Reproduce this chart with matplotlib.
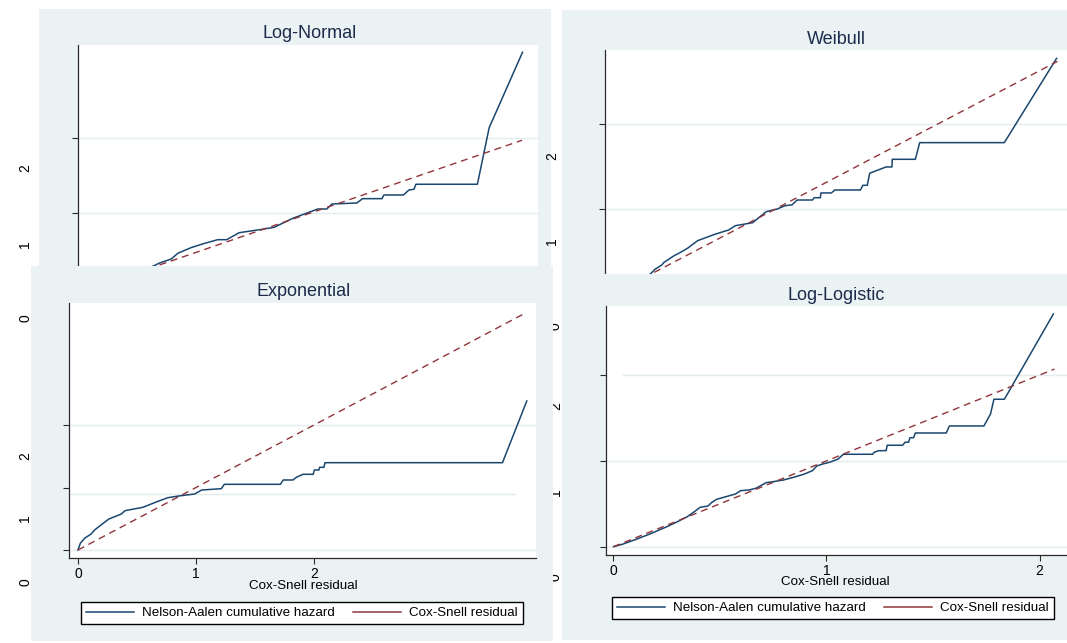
import matplotlib.pyplot as plt
from matplotlib.lines import Line2D

plt.rcParams['font.family'] = ['Liberation Sans', 'DejaVu Sans']

# Nelson-Aalen cumulative hazard vs Cox-Snell residual, four models
ln_na_x = [0, 0.279, 0.304, 0.361, 0.391, 0.451, 0.509, 0.574, 0.615, 0.672, 0.779, 0.833,
           0.918, 1.033, 1.074, 1.098, 1.212, 1.238, 1.327, 1.336, 1.426, 1.451, 1.474,
           1.483, 1.765, 1.819, 1.972]
ln_na_y = [0, 0.293, 0.329, 0.387, 0.463, 0.537, 0.591, 0.644, 0.644, 0.737, 0.783, 0.809,
           0.929, 1.053, 1.053, 1.12, 1.133, 1.191, 1.191, 1.24, 1.24, 1.307, 1.316,
           1.383, 1.383, 2.137, 3.143]
ln_cs = [0, 1.97]

wb_na_x = [0, 0.234, 0.262, 0.304, 0.315, 0.377, 0.42, 0.462, 0.525, 0.631, 0.715, 0.757,
           0.863, 0.947, 1.01, 1.063, 1.105, 1.137, 1.232, 1.242, 1.28, 1.284, 1.348, 1.369,
           1.527, 1.542, 1.569, 1.584, 1.685, 1.721, 1.723, 1.865, 1.892, 2.413, 2.735]
wb_na_y = [0, 0.239, 0.294, 0.345, 0.372, 0.451, 0.494, 0.541, 0.631, 0.706, 0.756, 0.807,
           0.842, 0.972, 1.0, 1.042, 1.051, 1.109, 1.109, 1.136, 1.136, 1.192, 1.192, 1.227,
           1.227, 1.282, 1.282, 1.424, 1.498, 1.498, 1.588, 1.588, 1.784, 1.784, 2.776]
wb_cs = [0, 2.74]

ex_na_x = [0, 0.02, 0.056, 0.111, 0.141, 0.202, 0.262, 0.368, 0.398, 0.55, 0.67, 0.762,
           0.853, 0.988, 1.049, 1.215, 1.24, 1.715, 1.739, 1.821, 1.851, 1.906, 1.993,
           2.003, 2.042, 2.047, 2.084, 2.093, 3.597, 3.803]
ex_na_y = [0, 0.107, 0.187, 0.256, 0.32, 0.411, 0.496, 0.576, 0.629, 0.683, 0.773, 0.837,
           0.864, 0.896, 0.96, 0.981, 1.051, 1.051, 1.12, 1.12, 1.163, 1.211, 1.211,
           1.28, 1.28, 1.323, 1.323, 1.397, 1.397, 2.384]
ex_cs = [0, 3.8]

ll_na_x = [0, 0.042, 0.107, 0.171, 0.251, 0.3, 0.347, 0.38, 0.407, 0.444, 0.46, 0.484,
           0.54, 0.573, 0.597, 0.637, 0.669, 0.717, 0.75, 0.798, 0.846, 0.894, 0.934,
           0.955, 0.983, 1.015, 1.055, 1.079, 1.216, 1.224, 1.245, 1.28, 1.285, 1.357,
           1.369, 1.385, 1.392, 1.409, 1.417, 1.562, 1.577, 1.739, 1.77, 1.786, 1.835, 2.065]
ll_na_y = [0, 0.028, 0.086, 0.148, 0.233, 0.291, 0.35, 0.408, 0.459, 0.474, 0.513, 0.552,
           0.591, 0.614, 0.653, 0.661, 0.681, 0.746, 0.758, 0.777, 0.809, 0.844, 0.886,
           0.941, 0.964, 0.984, 1.022, 1.077, 1.077, 1.1, 1.119, 1.119, 1.182, 1.182,
           1.217, 1.217, 1.27, 1.27, 1.325, 1.325, 1.407, 1.407, 1.547, 1.718, 1.718, 2.712]
ll_cs = [0, 2.07]

x_ticks = [0, 1, 2]
y_ticks_top = [1, 2]
y_ticks_bottom = [0, 1, 2]
legend_labels = ['Nelson-Aalen cumulative hazard', 'Cox-Snell residual']

W, H = 1067, 643
BG = '#EAF2F3'
GRID = '#E3EDEF'
NA_COLOR = '#1A476F'
CS_COLOR = '#90353B'
AX_COLOR = '#2b2b2b'
TITLE_COLOR = '#1c2b4b'

fig = plt.figure(figsize=(W / 100, H / 100), dpi=100)


def box(x0, y0, x1, y1):
    return [x0 / W, 1 - y1 / H, (x1 - x0) / W, (y1 - y0) / H]


def px_text(x, y, s, **kw):
    kw.setdefault('ha', 'center')
    kw.setdefault('va', 'center')
    return fig.text(x / W, 1 - y / H, s, **kw)


def bg_panel(x0, y0, x1, y1):
    ax = fig.add_axes(box(x0, y0, x1, y1))
    ax.set_facecolor(BG)
    ax.set_xticks([])
    ax.set_yticks([])
    for s in ax.spines.values():
        s.set_visible(False)
    return ax


def plot_panel(rect, na_x, na_y, cs, xlim, ylim, yticks, show_x=False):
    ax = fig.add_axes(box(*rect))
    ax.set_facecolor('white')
    ax.plot(na_x, na_y, color=NA_COLOR, lw=1.1, zorder=3)
    ax.plot(cs, cs, color=CS_COLOR, lw=1.0, ls=(0, (5, 3.5)), zorder=3)
    ax.set_xlim(*xlim)
    ax.set_ylim(*ylim)
    for s in ['top', 'right']:
        ax.spines[s].set_visible(False)
    for s in ['left', 'bottom']:
        ax.spines[s].set_color(AX_COLOR)
        ax.spines[s].set_linewidth(0.9)
    ax.set_yticks(yticks)
    ax.set_yticklabels([])
    ax.tick_params(axis='y', length=4, width=0.8, color=AX_COLOR)
    if show_x:
        ax.set_xticks(x_ticks)
        ax.set_xticklabels([str(t) for t in x_ticks])
        ax.tick_params(axis='x', length=4, width=0.8, color=AX_COLOR,
                       labelsize=10, pad=2.5)
    else:
        ax.set_xticks([])
    return ax


# top-left: Log-Normal
bg_panel(39, 9, 551, 300)
ax = plot_panel((78, 45, 538, 296), ln_na_x, ln_na_y, ln_cs,
                (-0.067, 2.043), (-0.107, 3.24), y_ticks_top)
for y in y_ticks_top:
    ax.axhline(y, color=GRID, lw=1.0, zorder=1)

# top-right: Weibull
bg_panel(562, 10, 1067, 300)
ax = plot_panel((605, 50, 1067, 302), wb_na_x, wb_na_y, wb_cs,
                (-0.046, 2.799), (-0.091, 2.874), y_ticks_top)
for y in y_ticks_top:
    ax.axhline(y, color=GRID, lw=1.0, zorder=1)

# labels that sit between the panels, partly covered by the lower-left panel
for y, s in [(326, '0'), (406, '2'), (492, '1'), (577, '0')]:
    px_text(556, y, s, rotation=90, fontsize=10, zorder=-1)

# bottom-left: Exponential
bg_panel(31, 266, 553, 641)
ax = plot_panel((69, 303, 536, 558), ex_na_x, ex_na_y, ex_cs,
                (-0.076, 3.881), (-0.128, 3.952), y_ticks_bottom, show_x=True)
ax.axhline(0, color=GRID, lw=1.0, zorder=1)
ax.axhline(2, color=GRID, lw=1.0, zorder=1)
ax.axhline(0.9, xmax=0.955, color=GRID, lw=1.0, zorder=1)

# bottom-right: Log-Logistic
bg_panel(562, 274, 1067, 640)
ax = plot_panel((606, 306, 1067, 555), ll_na_x, ll_na_y, ll_cs,
                (-0.035, 2.129), (-0.097, 2.805), y_ticks_bottom, show_x=True)
ax.axhline(0, color=GRID, lw=1.0, zorder=1)
ax.axhline(1, color=GRID, lw=1.0, zorder=1)
ax.axhline(2, xmin=0.037, color=GRID, lw=1.0, zorder=1)

# titles
px_text(310, 33, 'Log-Normal', fontsize=13, color=TITLE_COLOR)
px_text(836, 39, 'Weibull', fontsize=13, color=TITLE_COLOR)
px_text(304, 292, 'Exponential', fontsize=13, color=TITLE_COLOR)
px_text(836, 295, 'Log-Logistic', fontsize=13, color=TITLE_COLOR)

# x axis titles
px_text(303, 586, 'Cox-Snell residual', fontsize=9.6)
px_text(835, 582, 'Cox-Snell residual', fontsize=9.6)

# loose y tick labels from the original layout
for x, y, s in [(25, 168, '2'), (25, 244, '1'),
                (25, 318, '0'), (25, 456, '2'), (25, 518, '1'), (25, 582, '0'),
                (552, 156, '2'), (552, 241, '1')]:
    px_text(x, y, s, rotation=90, fontsize=10)

# legends
handles = [Line2D([], [], color=NA_COLOR, lw=1.1), Line2D([], [], color=CS_COLOR, lw=1.1)]
for cx, cy in [(302, 613), (833, 608)]:
    leg = fig.legend(handles, legend_labels, loc='center',
                     bbox_to_anchor=(cx / W, 1 - cy / H), ncol=2, fontsize=9.6,
                     frameon=True, fancybox=False, edgecolor='black', framealpha=1,
                     borderpad=0.35, handlelength=3.6, handletextpad=0.6,
                     columnspacing=1.4, borderaxespad=0)
    leg.get_frame().set_linewidth(1.0)

fig.savefig('out.png', dpi=100)
